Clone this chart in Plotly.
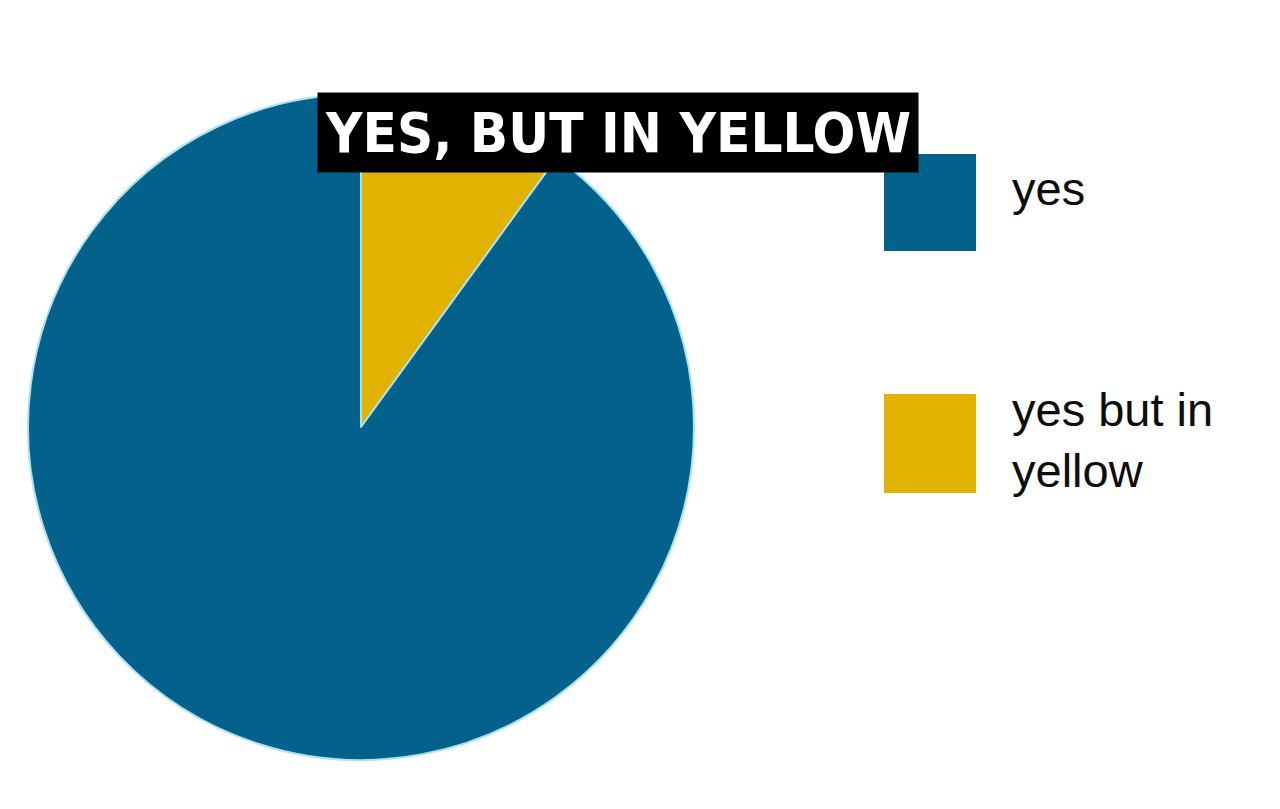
import textwrap
import plotly.graph_objects as go

# data
labels = ["yes", "yes but in yellow"]
values = [90, 10]
colors = ["#04618c", "#e1b200"]
title_text = "YES, BUT IN YELLOW"

W, H = 1280, 809

fig = go.Figure()

# pie: yellow slice starts at 12 o'clock and runs clockwise
fig.add_trace(
    go.Pie(
        labels=labels[::-1],
        values=values[::-1],
        marker=dict(colors=colors[::-1], line=dict(color="#a9e3f2", width=2)),
        sort=False,
        direction="clockwise",
        rotation=0,
        textinfo="none",
        hoverinfo="label+value",
        showlegend=False,
        domain=dict(x=[28 / W, 694 / W], y=[1 - 760 / H, 1 - 94 / H]),
    )
)

# big square legend drawn by hand (plotly legend symbols are too small)
swatch_top = [155, 395]
swatch_h = [95, 97]
text_y = [189, 440]
for i, lab in enumerate(labels):
    y0 = swatch_top[i]
    fig.add_shape(
        type="rect",
        xref="paper", yref="paper",
        x0=885 / W, x1=975 / W,
        y0=1 - (y0 + swatch_h[i]) / H, y1=1 - y0 / H,
        fillcolor=colors[i],
        line=dict(color=colors[i], width=2),
    )
    fig.add_annotation(
        xref="paper", yref="paper",
        x=1010 / W, y=1 - text_y[i] / H,
        xanchor="left", yanchor="middle",
        align="left",
        text="<br>".join(textwrap.wrap(lab, 10)),
        showarrow=False,
        font=dict(family="Liberation Sans, Arial, sans-serif", size=47, color="#0d0d0d"),
    )

# meme caption
fig.add_annotation(
    xref="paper", yref="paper",
    x=618 / W, y=1 - 133 / H,
    xanchor="center", yanchor="middle",
    text="<b>" + title_text + "</b>",
    showarrow=False,
    bgcolor="#000000",
    borderpad=7,
    font=dict(family="DejaVu Sans Condensed, Liberation Sans Narrow, sans-serif",
              size=56, color="#ffffff"),
)

fig.update_layout(
    width=W,
    height=H,
    margin=dict(l=0, r=0, t=0, b=0),
    paper_bgcolor="#ffffff",
    plot_bgcolor="#ffffff",
)

fig.write_html(
    "out.html",
    config={"displayModeBar": False},
    post_script="document.body.style.margin='0';",
)
